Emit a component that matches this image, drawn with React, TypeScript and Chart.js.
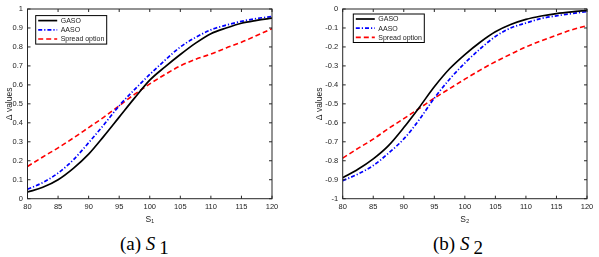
import React, { useEffect, useRef } from 'react';
import { Chart, registerables } from 'chart.js';

Chart.register(...registerables);

// ---- Data ----
const S_VALUES = [80, 82.5, 85, 87.5, 90, 92.5, 95, 97.5, 100, 102.5, 105, 107.5, 110, 112.5, 115, 117.5, 120];
const X_TICKS = [80, 85, 90, 95, 100, 105, 110, 115, 120];
const Y_TICKS_S1 = [0, 0.1, 0.2, 0.3, 0.4, 0.5, 0.6, 0.7, 0.8, 0.9, 1];
const Y_TICKS_S2 = [-1, -0.9, -0.8, -0.7, -0.6, -0.5, -0.4, -0.3, -0.2, -0.1, 0];
const SERIES_LABELS = ['GASO', 'AASO', 'Spread option'];

const GASO_S1 = [0.035, 0.06, 0.1, 0.16, 0.235, 0.33, 0.43, 0.53, 0.625, 0.695, 0.76, 0.82, 0.87, 0.9, 0.925, 0.94, 0.952];
const AASO_S1 = [0.05, 0.085, 0.135, 0.205, 0.295, 0.39, 0.49, 0.575, 0.655, 0.73, 0.8, 0.85, 0.89, 0.915, 0.935, 0.95, 0.96];
const SPREAD_S1 = [0.17, 0.22, 0.268, 0.32, 0.375, 0.43, 0.49, 0.55, 0.605, 0.655, 0.7, 0.735, 0.762, 0.795, 0.825, 0.86, 0.897];

const GASO_S2 = [-0.89, -0.845, -0.79, -0.72, -0.625, -0.52, -0.41, -0.315, -0.24, -0.175, -0.12, -0.082, -0.055, -0.037, -0.024, -0.015, -0.008];
const AASO_S2 = [-0.905, -0.87, -0.825, -0.76, -0.685, -0.585, -0.47, -0.37, -0.285, -0.21, -0.145, -0.1, -0.074, -0.05, -0.036, -0.024, -0.014];
const SPREAD_S2 = [-0.786, -0.735, -0.686, -0.63, -0.578, -0.525, -0.47, -0.42, -0.37, -0.322, -0.278, -0.238, -0.2, -0.168, -0.138, -0.11, -0.088];

// ---- Styles ----
const SANS = '"Liberation Sans", Arial, sans-serif';
const TEXT_COLOR = '#222';
const SERIES_STYLES = [
  { color: '#000000', dash: [] as number[], width: 1.7 },
  { color: '#0000ff', dash: [4, 2, 1.2, 2], width: 1.7 },
  { color: '#ff0000', dash: [5, 3], width: 1.6 },
];

type Props = {
  series: number[][];
  yMin: number;
  yMax: number;
  yTicks: number[];
  xTitle: string;
  width: number;
  height: number;
  yAxisWidth: number;
  padRight: number;
  yTitlePad: number;
  legendDx: number;
  legendDy: number;
};

function fmt(v: number) {
  return Number(v.toFixed(1)).toString();
}

function DeltaChart(p: Props) {
  const ref = useRef<HTMLCanvasElement | null>(null);
  useEffect(() => {
    if (!ref.current) return;
    const plotBottom = 198.7;
    const xAxisH = p.height - plotBottom;
    const framePlugin = {
      id: 'frameLegend',
      afterDatasetsDraw(chart: any) {
        const { ctx, chartArea: a, scales } = chart;
        ctx.save();
        ctx.strokeStyle = '#262626';
        ctx.lineWidth = 1;
        ctx.strokeRect(a.left, a.top, a.right - a.left, a.bottom - a.top);
        const tl = 3;
        ctx.beginPath();
        scales.x.ticks.forEach((t: any) => {
          const px = scales.x.getPixelForValue(t.value);
          ctx.moveTo(px, a.bottom);
          ctx.lineTo(px, a.bottom - tl);
          ctx.moveTo(px, a.top);
          ctx.lineTo(px, a.top + tl);
        });
        scales.y.ticks.forEach((t: any) => {
          const py = scales.y.getPixelForValue(t.value);
          ctx.moveTo(a.left, py);
          ctx.lineTo(a.left + tl, py);
          ctx.moveTo(a.right, py);
          ctx.lineTo(a.right - tl, py);
        });
        ctx.stroke();

        // legend box
        const bx = a.left + p.legendDx;
        const by = a.top + p.legendDy;
        const bw = 71;
        const bh = 28.5;
        ctx.fillStyle = '#ffffff';
        ctx.fillRect(bx, by, bw, bh);
        ctx.strokeStyle = '#000';
        ctx.lineWidth = 1;
        ctx.strokeRect(bx, by, bw, bh);
        chart.data.datasets.forEach((ds: any, i: number) => {
          const ry = by + 5 + i * 9.2;
          ctx.beginPath();
          ctx.strokeStyle = ds.borderColor;
          ctx.lineWidth = ds.borderWidth;
          ctx.setLineDash(ds.borderDash || []);
          ctx.moveTo(bx + 2.5, ry);
          ctx.lineTo(bx + 21.5, ry);
          ctx.stroke();
          ctx.setLineDash([]);
          ctx.fillStyle = TEXT_COLOR;
          ctx.font = `7px ${SANS}`;
          ctx.textBaseline = 'middle';
          ctx.textAlign = 'left';
          ctx.fillText(ds.label, bx + 25, ry + 0.5);
        });
        ctx.restore();
      },
    };

    const chart = new Chart(ref.current, {
      type: 'line',
      data: {
        datasets: p.series.map((ys, i) => ({
          label: SERIES_LABELS[i],
          data: S_VALUES.map((x, j) => ({ x, y: ys[j] })),
          borderColor: SERIES_STYLES[i].color,
          borderWidth: SERIES_STYLES[i].width,
          borderDash: SERIES_STYLES[i].dash,
          pointRadius: 0,
          tension: 0.4,
          cubicInterpolationMode: 'monotone',
          fill: false,
        })),
      },
      options: {
        responsive: false,
        animation: false,
        events: [],
        layout: { padding: { left: 0, top: 6.7, right: p.padRight, bottom: 0 } },
        plugins: { legend: { display: false }, tooltip: { enabled: false } },
        scales: {
          x: {
            type: 'linear',
            min: 80,
            max: 120,
            afterBuildTicks: (s: any) => {
              s.ticks = X_TICKS.map((v) => ({ value: v }));
            },
            afterFit: (s: any) => {
              s.height = xAxisH;
            },
            grid: { display: false, drawTicks: false },
            border: { display: false },
            ticks: {
              padding: 4,
              autoSkip: false,
              maxRotation: 0,
              color: TEXT_COLOR,
              font: { size: 7.5, family: SANS },
              callback: (v: any) => String(v),
            },
            title: {
              display: true,
              text: p.xTitle,
              color: TEXT_COLOR,
              font: { size: 8.5, family: SANS },
              padding: { top: 1.3, bottom: 0 },
            },
          },
          y: {
            type: 'linear',
            min: p.yMin,
            max: p.yMax,
            afterBuildTicks: (s: any) => {
              s.ticks = p.yTicks.map((v) => ({ value: v }));
            },
            afterFit: (s: any) => {
              s.width = p.yAxisWidth;
            },
            grid: { display: false, drawTicks: false },
            border: { display: false },
            ticks: {
              padding: 4.5,
              autoSkip: false,
              color: TEXT_COLOR,
              font: { size: 7.5, family: SANS },
              callback: (v: any) => fmt(Number(v)),
            },
            title: {
              display: true,
              text: 'Δ values',
              color: TEXT_COLOR,
              font: { size: 8.5, family: SANS },
              padding: { top: p.yTitlePad, bottom: 0 },
            },
          },
        },
      },
      plugins: [framePlugin],
    } as any);
    return () => chart.destroy();
  }, []);
  return <canvas ref={ref} width={p.width} height={p.height} style={{ display: 'block', width: p.width, height: p.height }} />;
}

const captionStyle: React.CSSProperties = {
  position: 'absolute',
  top: 234,
  fontFamily: '"Liberation Serif", "DejaVu Serif", "Noto Serif", "Times New Roman", Times, serif',
  fontSize: 19,
  lineHeight: '19px',
  color: '#000',
  whiteSpace: 'nowrap',
};

export default function App() {
  return (
    <div style={{ position: 'absolute', left: 0, top: 0, width: 599, height: 257, background: '#fff', overflow: 'hidden' }}>
      <div style={{ position: 'absolute', left: 0, top: 0 }}>
        <DeltaChart
          series={[GASO_S1, AASO_S1, SPREAD_S1]}
          yMin={0}
          yMax={1}
          yTicks={Y_TICKS_S1}
          xTitle="S₁"
          width={300}
          height={225}
          yAxisWidth={27.5}
          padRight={28}
          yTitlePad={4.5}
          legendDx={8.2}
          legendDy={6.6}
        />
      </div>
      <div style={{ position: 'absolute', left: 300, top: 0 }}>
        <DeltaChart
          series={[GASO_S2, AASO_S2, SPREAD_S2]}
          yMin={-1}
          yMax={0}
          yTicks={Y_TICKS_S2}
          xTitle="S₂"
          width={299}
          height={225}
          yAxisWidth={42.7}
          padRight={12}
          yTitlePad={14.5}
          legendDx={10.6}
          legendDy={5}
        />
      </div>
      <div style={{ ...captionStyle, left: 120 }}>
        (a) <i>S</i>
        <span style={{ position: 'relative', top: 4, marginLeft: 4 }}>1</span>
      </div>
      <div style={{ ...captionStyle, left: 433 }}>
        (b) <i>S</i>
        <span style={{ position: 'relative', top: 4, marginLeft: 4 }}>2</span>
      </div>
    </div>
  );
}
